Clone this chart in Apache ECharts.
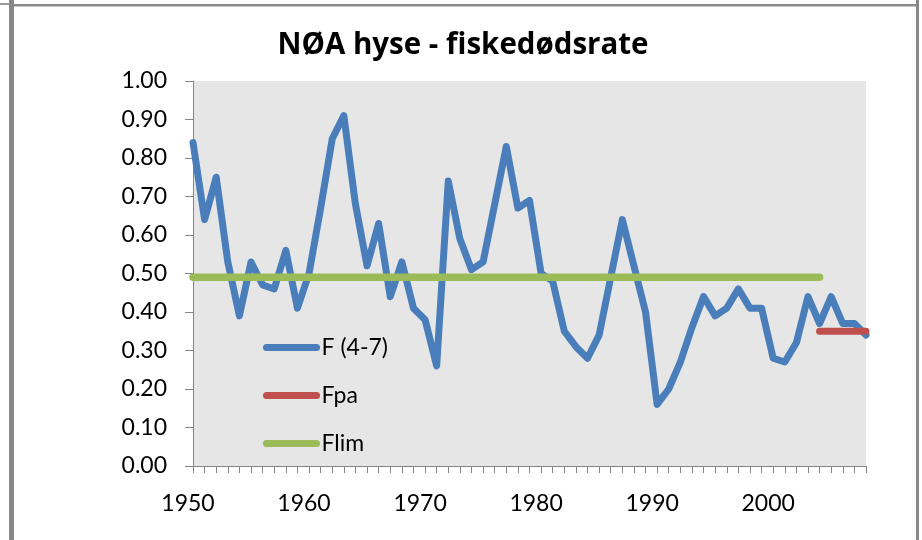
<!DOCTYPE html>
<html>
<head>
<meta charset="utf-8">
<script src="https://cdn.jsdelivr.net/npm/echarts@6/dist/echarts.min.js"></script>
<style>
html,body{margin:0;padding:0;background:#fff;}
#chart{width:922px;height:540px;}
</style>
</head>
<body>
<div id="chart"></div>
<script>
var years = ['1950','1951','1952','1953','1954','1955','1956','1957','1958','1959',
             '1960','1961','1962','1963','1964','1965','1966','1967','1968','1969',
             '1970','1971','1972','1973','1974','1975','1976','1977','1978','1979',
             '1980','1981','1982','1983','1984','1985','1986','1987','1988','1989',
             '1990','1991','1992','1993','1994','1995','1996','1997','1998','1999',
             '2000','2001','2002','2003','2004','2005','2006','2007','2008'];
var fValues = [0.84,0.64,0.75,0.53,0.39,0.53,0.47,0.46,0.56,0.41,
               0.50,0.67,0.85,0.91,0.68,0.52,0.63,0.44,0.53,0.41,
               0.38,0.26,0.74,0.59,0.51,0.53,0.68,0.83,0.67,0.69,
               0.50,0.48,0.35,0.31,0.28,0.34,0.49,0.64,0.52,0.40,
               0.16,0.20,0.27,0.36,0.44,0.39,0.41,0.46,0.41,0.41,
               0.28,0.27,0.32,0.44,0.37,0.44,0.37,0.37,0.34];
var fpaYears = ['2004','2008'];
var fpaValues = [0.35, 0.35];
var flimYears = ['1950','2004'];
var flimValues = [0.49, 0.49];
var yTicks = ['0.00','0.10','0.20','0.30','0.40','0.50','0.60','0.70','0.80','0.90','1.00'];

var chart = echarts.init(document.getElementById('chart'), null, {renderer:'canvas'});
var font = 'Lato';
function pairs(xs, ys){ return xs.map(function(x,i){ return [x, ys[i]]; }); }

chart.setOption({
  backgroundColor: '#ffffff',
  animation: false,
  title: {
    text: 'NØA hyse - fiskedødsrate',
    left: 463, top: 31, padding: 0,
    textAlign: 'center',
    textStyle: {fontFamily: 'Open Sans', fontWeight: 'bold', fontSize: 29.5, color: '#000'}
  },
  grid: {
    left: 193, right: 56, top: 81, bottom: 74,
    show: true, backgroundColor: '#e6e6e6', borderWidth: 0
  },
  legend: {
    orient: 'vertical',
    left: 263, top: 336, padding: 0,
    itemWidth: 50, itemHeight: 22, itemGap: 25,
    itemStyle: {opacity: 0},
    lineStyle: {width: 7, cap: 'round', opacity: 1},
    textStyle: {fontFamily: font, fontSize: 23, color: '#000', lineHeight: 22},
    data: ['F (4-7)','Fpa','Flim']
  },
  xAxis: {
    type: 'category',
    data: years,
    boundaryGap: false,
    axisLine: {show: true, lineStyle: {color: '#868686', width: 1}},
    axisTick: {show: true, interval: 0, length: 7, lineStyle: {color: '#868686'}},
    axisLabel: {interval: 9, margin: 26, padding: [0, 10, 0, 0], fontFamily: font, fontSize: 23, color: '#000'},
    splitLine: {show: false}
  },
  yAxis: {
    type: 'value', min: 0, max: 1, interval: 0.1,
    axisLine: {show: true, lineStyle: {color: '#868686', width: 1}},
    axisTick: {show: true, length: 8, lineStyle: {color: '#868686'}},
    axisLabel: {margin: 26, fontFamily: font, fontSize: 23, color: '#000',
      formatter: function(v){ return yTicks[Math.round(v*10)]; }},
    splitLine: {show: false}
  },
  series: [
    {name: 'F (4-7)', type: 'line', data: fValues, symbol: 'none', showSymbol: false,
     lineStyle: {color: '#4a7ebb', width: 7, join: 'round', cap: 'round'},
     itemStyle: {color: '#4a7ebb'}},
    {name: 'Fpa', type: 'line', data: pairs(fpaYears, fpaValues), symbol: 'none', showSymbol: false,
     lineStyle: {color: '#c0504d', width: 7, cap: 'round'},
     itemStyle: {color: '#c0504d'}},
    {name: 'Flim', type: 'line', data: pairs(flimYears, flimValues), symbol: 'none', showSymbol: false,
     lineStyle: {color: '#9bbb59', width: 7.5, cap: 'round'},
     itemStyle: {color: '#9bbb59'}}
  ],
  graphic: [
    {type: 'rect', shape: {x: 9, y: 0, width: 5, height: 540}, style: {fill: '#888888'}, silent: true},
    {type: 'rect', shape: {x: 0, y: 3, width: 9, height: 2}, style: {fill: '#999999'}, silent: true},
    {type: 'rect', shape: {x: 14, y: 4, width: 902, height: 2.5}, style: {fill: '#8c8c8c'}, silent: true},
    {type: 'rect', shape: {x: 916, y: 0, width: 3, height: 540}, style: {fill: '#888888'}, silent: true}
  ]
});
</script>
</body>
</html>
